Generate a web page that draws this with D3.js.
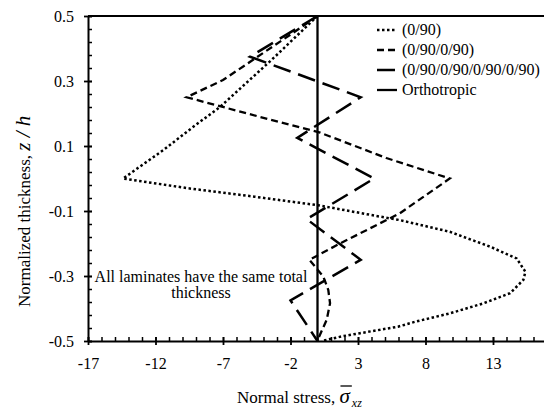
<!DOCTYPE html>
<html lang="en">
<head>
<meta charset="UTF-8">
<script src="https://d3js.org/d3.v7.min.js"></script>
<title>Shear stress through thickness</title>
<style>
  body { margin: 0; background: #fff; }
  svg text { font-family: "Liberation Serif", "Times New Roman", serif; fill: #000; }
</style>
</head>
<body>
<div id="chart"></div>
<script>
// values: normalized stress vs z/h for each laminate
var stress2ply = [0, -3.4, -7.2, -9.2, -11.4, -14.4, -9.6, -4.65, 0, 4.6, 6.1, 9.8, 12.8, 14.75, 15.4, 15.25, 14.26, 12.3, 9.8, 7.3, 5.96, 3.15, 1.9, 0.3];
var z2ply      = [0.5, 0.365, 0.221, 0.159, 0.088, 0, -0.03, -0.056, -0.082, -0.117, -0.128, -0.164, -0.21, -0.246, -0.287, -0.312, -0.353, -0.384, -0.415, -0.44, -0.456, -0.476, -0.485, -0.5];

var stress4ply = [0, -2.1, -7.0, -9.7, -4.3, 0.2, 5.1, 9.8, 6.1, 1.67, -0.6, 0.43, 0.8, 0.93, 0.68, 0.06, 0];
var z4ply      = [0.5, 0.44, 0.303, 0.25, 0.19, 0.141, 0.063, 0, -0.107, -0.2, -0.25, -0.302, -0.343, -0.384, -0.435, -0.492, -0.5];

var stress8ply = [0, -5.0, 3.2, -1.5, 4.2, -0.8, 3.2, -2.0, 0];
var z8ply      = [0.5, 0.375, 0.25, 0.125, 0, -0.125, -0.25, -0.375, -0.5];

var stressOrtho = [0, 0];
var zOrtho      = [0.5, -0.5];

var seriesNames = ["(0/90)", "(0/90/0/90)", "(0/90/0/90/0/90/0/90)", "Orthotropic"];

var xTicks = [-17, -12, -7, -2, 3, 8, 13];
var yTicks = [-0.5, -0.3, -0.1, 0.1, 0.3, 0.5];

var FONT = "Liberation Serif, Times New Roman, serif";
var width = 544, height = 410;
var svg = d3.select("#chart").append("svg")
    .attr("width", width).attr("height", height)
    .attr("font-family", FONT);

var x = d3.scaleLinear().domain([-17, 17]).range([88, 547]);
var y = d3.scaleLinear().domain([-0.5, 0.5]).range([341, 16]);

// minor ticks (inside only)
var xMinor = d3.range(-17, 18, 1);
var yMinor = d3.range(0, 26).map(function (i) { return -0.5 + i * 0.04; });

svg.append("g").attr("transform", "translate(0,341)")
    .call(d3.axisBottom(x).tickValues(xMinor).tickFormat("").tickSizeInner(-4).tickSizeOuter(0))
    .call(function (g) { g.select(".domain").remove(); g.selectAll("line").attr("stroke-width", 1.5); });
svg.append("g").attr("transform", "translate(88,0)")
    .call(d3.axisLeft(y).tickValues(yMinor).tickFormat("").tickSizeInner(-4).tickSizeOuter(0))
    .call(function (g) { g.select(".domain").remove(); g.selectAll("line").attr("stroke-width", 1.5); });

// major ticks cross the axis
var xAxis = svg.append("g").attr("transform", "translate(0,341)")
    .call(d3.axisBottom(x).tickValues(xTicks).tickFormat(function (d) { return String(d); }).tickSizeOuter(0))
    .attr("font-family", FONT).attr("font-size", 16);
xAxis.selectAll("line").attr("y1", -4).attr("y2", 4).attr("stroke-width", 1.8);
xAxis.select(".domain").attr("stroke-width", 2);
xAxis.selectAll("text").attr("y", 28).attr("dy", 0);

var yAxis = svg.append("g").attr("transform", "translate(88,0)")
    .call(d3.axisLeft(y).tickValues(yTicks).tickFormat(function (d) { return String(d); }).tickSizeOuter(0))
    .attr("font-family", FONT).attr("font-size", 16);
yAxis.selectAll("line").attr("x1", -4).attr("x2", 4).attr("stroke-width", 1.8);
yAxis.select(".domain").attr("stroke-width", 2);
yAxis.selectAll("text").attr("x", -14).attr("dy", "0.32em");

// top frame line
svg.append("line")
    .attr("x1", x(-17)).attr("x2", x(17))
    .attr("y1", y(0.5)).attr("y2", y(0.5))
    .attr("stroke", "#000").attr("stroke-width", 2);

var styles = [
    { dash: "2.5 2.5", w: 2.5 },
    { dash: "7 4", w: 2.3 },
    { dash: "18 8", w: 2.5 },
    { dash: null, w: 2.3 }
];

var line = d3.line()
    .x(function (d) { return x(d[0]); })
    .y(function (d) { return y(d[1]); });

var series = [
    d3.zip(stress2ply, z2ply),
    d3.zip(stress4ply, z4ply),
    d3.zip(stress8ply, z8ply),
    d3.zip(stressOrtho, zOrtho)
];

svg.append("g").selectAll("path")
    .data(series)
    .join("path")
    .attr("d", line)
    .attr("fill", "none")
    .attr("stroke", "#000")
    .attr("stroke-width", function (d, i) { return styles[i].w; })
    .attr("stroke-dasharray", function (d, i) { return styles[i].dash; });

// legend
var legend = svg.append("g").selectAll("g")
    .data(seriesNames)
    .join("g")
    .attr("transform", function (d, i) { return "translate(377," + (30 + i * 20) + ")"; });
legend.append("line")
    .attr("x1", 0).attr("x2", 20)
    .attr("stroke", "#000")
    .attr("stroke-width", function (d, i) { return styles[i].w; })
    .attr("stroke-dasharray", function (d, i) { return styles[i].dash; });
legend.append("text")
    .attr("x", 25).attr("y", 5)
    .attr("font-size", "16px")
    .text(function (d) { return d; });

// annotation
svg.append("text").attr("x", 201).attr("y", 282).attr("text-anchor", "middle")
    .attr("font-size", "16px").text("All laminates have the same total");
svg.append("text").attr("x", 201).attr("y", 298).attr("text-anchor", "middle")
    .attr("font-size", "16px").text("thickness");

// x axis title with sigma-bar sub xz
var xt = svg.append("text").attr("x", 237).attr("y", 403).attr("font-size", "17px")
    .text("Normal stress,\u00A0");
var xtw = xt.node().getComputedTextLength();
var sig = svg.append("text").attr("x", 237 + xtw).attr("y", 403)
    .attr("font-size", "21px").attr("font-style", "italic").text("\u03C3");
var sw = sig.node().getComputedTextLength();
svg.append("line")
    .attr("x1", 237 + xtw + 1).attr("x2", 237 + xtw + sw + 2)
    .attr("y1", 386).attr("y2", 386)
    .attr("stroke", "#000").attr("stroke-width", 1.3);
svg.append("text").attr("x", 237 + xtw + sw + 2).attr("y", 407)
    .attr("font-size", "12px").attr("font-style", "italic").text("xz");

// y axis title
var yt = svg.append("text")
    .attr("transform", "translate(30,307) rotate(-90)")
    .attr("font-size", "17px");
yt.append("tspan").text("Normalized thickness,\u00A0");
yt.append("tspan").attr("font-style", "italic").attr("font-size", "21px").text("z / h");
</script>
</body>
</html>
